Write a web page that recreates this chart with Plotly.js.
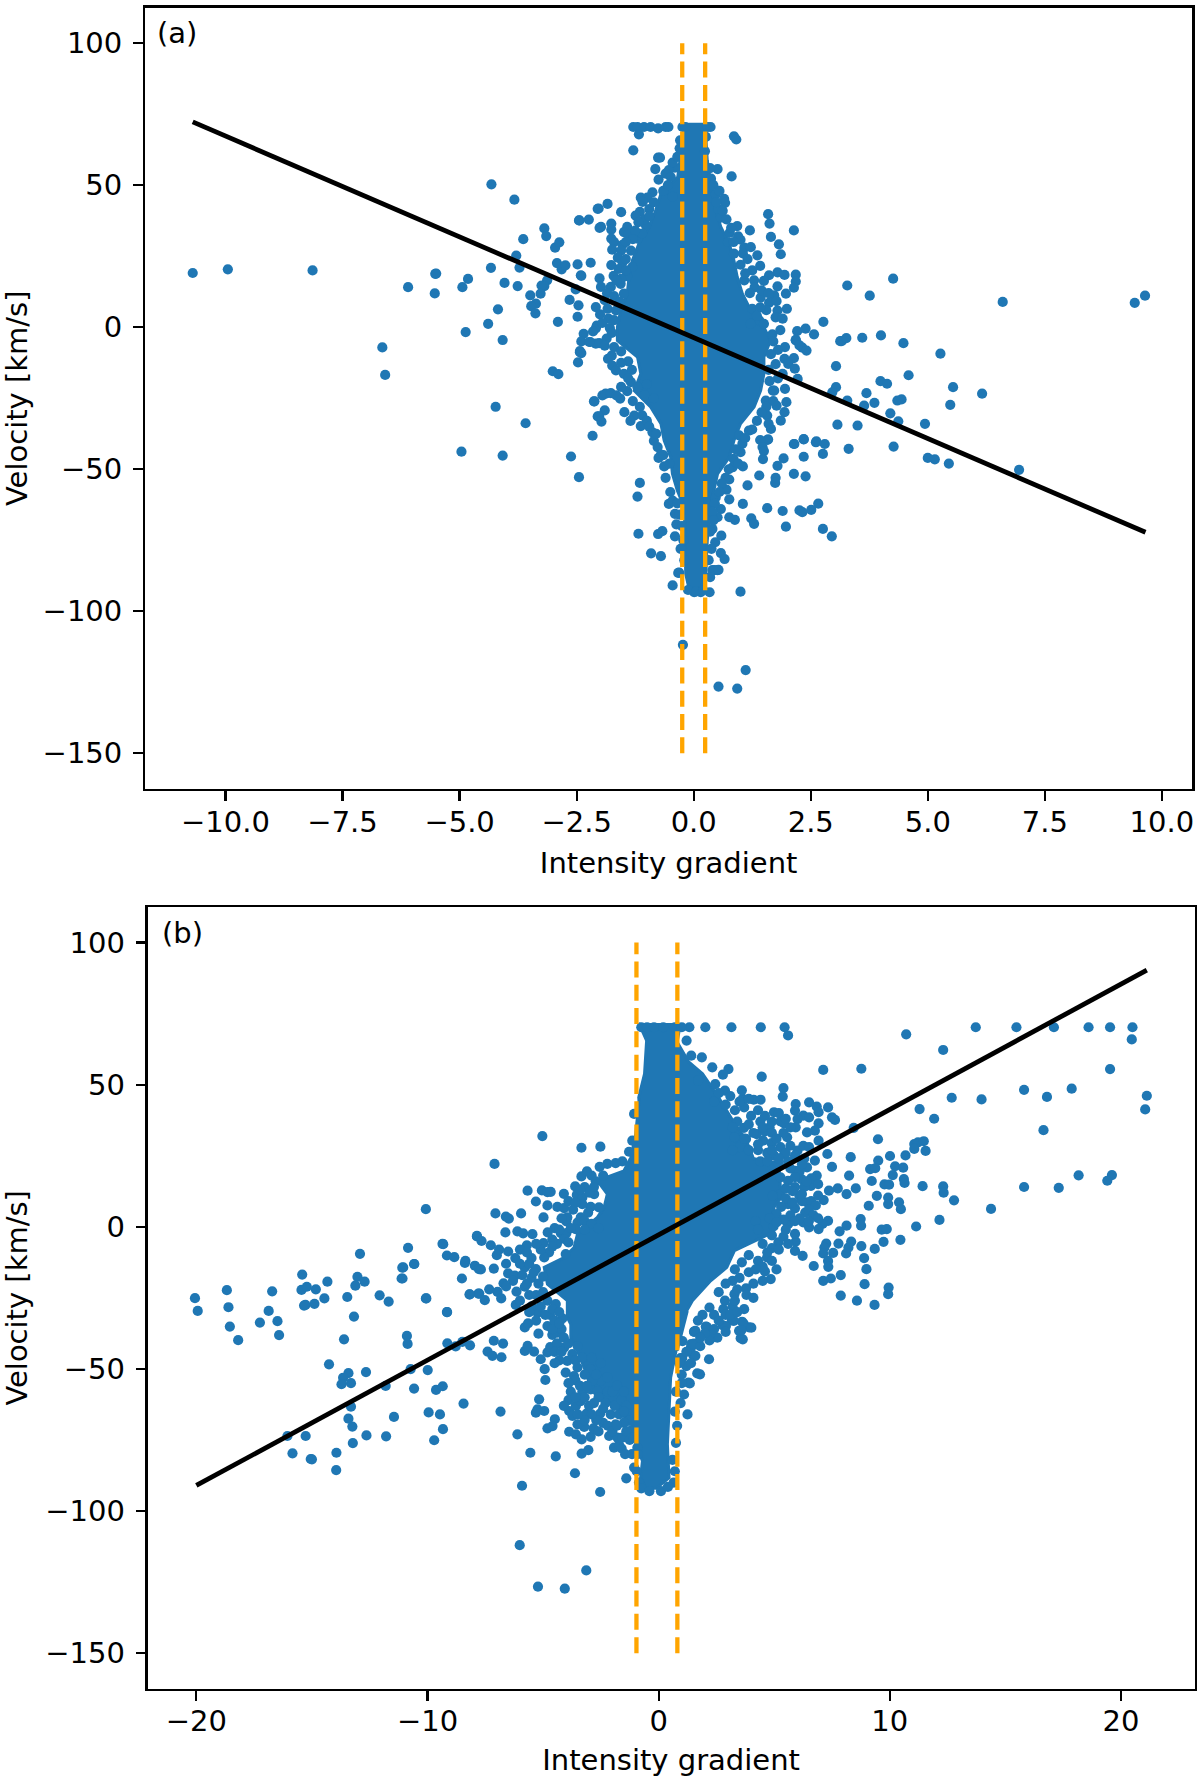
<!DOCTYPE html>
<html><head><meta charset="utf-8">
<script src="https://cdn.plot.ly/plotly-3.0.1.min.js"></script>
<style>html,body{margin:0;padding:0;background:#fff}#c{width:1200px;height:1777px}</style></head>
<body><div id="c"></div>
<script>
const pointsA=[[-10.7,19.1],[-9.95,20.4],[-8.14,20],[-6.65,-7.1],[-6.59,-16.8],[-6.1,14.1],[-5.52,18.8],[-5.5,18.9],[-5.53,11.9],[-4.94,14.1],[-4.82,17],[-4.87,-1.7],[-4.33,20.9],[-4.04,15.6],[-3.76,14.5],[-4.32,50.3],[-3.83,44.9],[-4.18,6.3],[-4.39,1.2],[-4.08,-4.5],[-4.23,-28],[-3.59,-33.8],[-4.96,-43.8],[-4.08,-45.2],[-3.79,25.2],[-3.72,21],[-3.64,31],[-3.19,34.8],[-3.15,32.1],[-2.96,28],[-2.87,29.9],[-2.92,22.6],[-2.82,20.4],[-2.74,21.8],[-2.48,22.1],[-2.2,22.7],[-2.4,18.1],[-3.13,16.5],[-3.19,14.5],[-3.25,14.7],[-3.49,11.2],[-3.27,11.8],[-3.37,8.3],[-3.47,7.4],[-3.38,4.9],[-2.65,9.6],[-2.46,7.7],[-2.52,13.3],[-2.48,3.7],[-2.9,1.9],[-2.35,-2.3],[-2.4,-5],[-2.43,-8.4],[-2.4,-9.1],[-2.47,-12.4],[-3.01,-15.5],[-2.89,-16.5],[-2.12,-26.1],[-2.16,-38.2],[-2.05,-31.4],[-2.44,37.6],[-2.24,37.9],[-2.05,41.7],[-2.01,35],[-2.09,-.4],[-2.21,-5.2],[-2.09,-5.8],
[-1.29,70.5],[-1.2,70.5],[-1.06,70.5],[-.92,70.5],[-.76,70],[-.6,70.5],[-.54,70.5],[-1.17,67.9],[-1.29,62.3],[-.76,59.7],[-.72,59.7],[-.82,55.7],[-.4,56.2],[-.53,55.3],[-.6,54.1],[-.49,52.9],[.51,55.7],[.81,53.1],[.37,52.3],[.86,67.2],[.91,66.1],[-.88,47.5],[-1.13,45.6],[-.99,45.6],[-1.09,44.1],[-1.84,43.4],[-2.03,41.8],[-1.55,40.5],[-1.15,40.6],[-1.24,39.3],[-.95,41.6],[-2.45,37.6],[-1.98,35.3],[-1.76,36.5],[-1.76,34.4],[-1.42,35.3],[-1.49,33.5],[-1.4,32.7],[-1.76,31.2],[-1.7,30],[-1.02,35.9],[-1.52,29],[-1.74,27.3],[-1.34,27],[-1.2,31.2],[-1.76,21.9],[-1.52,22.9],[-2.41,18.3],[-1.71,18.1],[-2.01,17.2],[-1.42,18],[-1.31,21.2],[-1.98,14.2],[-1.77,14.2],[-1.56,15.3],[-1.49,11.8],[-2.09,7.1],[-1.84,6.5],[-1.66,5.9],[-2.07,.6],[-1.79,-.3],[-2.23,-5.2],[-2.02,-5.6],[-1.86,-4],
[.47,46.8],[.65,45.2],[.67,43.8],[.52,41.6],[.58,38.6],[.93,35.6],[1.2,34.1],[.77,33.3],[1,30.8],[.73,30],[1.59,39.8],[1.62,36.5],[2.14,34.1],[1.65,31.8],[1.82,29.2],[1.86,25.7],[1.08,28],[1.22,28.2],[1.36,25.3],[.86,25.9],[1.42,21.6],[1.79,19.3],[1.61,18.3],[1.5,16.3],[1.94,18.4],[2.18,18.5],[2.18,16.1],[2.14,13.9],[1.79,14.4],[1.97,11.8],[1.72,11.2],[1.61,8.6],[1.77,9.2],[1.79,5.9],[1.99,6.5],[1.08,16.5],[1.29,16.5],[1.43,10.4],[1.25,6.5],[2.77,1.9],[2.21,-1.4],[2.39,-.5],[2.57,-2.5],[2.18,-4.6],[2.32,-7.2],[3.13,-4.9],[1.4,2.4],[1.5,1.2],[1.68,-2.5],[1.22,1.2],
[3.28,14.7],[3.76,11.1],[4.26,17.1],[6.6,8.9],[9.42,8.6],[9.64,11.1],[3.16,-4.9],[3.26,-3.8],[3.6,-3.7],[4,-2.9],[4.48,-5.6],[5.27,-9.3],[3.04,-13.7],[4.59,-16.9],[3.99,-19],[4.13,-19.9],[5.54,-21.1],[6.16,-23.4],[5.48,-27.3],[3.04,-21.1],[2.96,-22.9],[3.69,-23.2],[3.28,-25.8],[3.64,-27.6],[3.86,-26.6],[4.35,-25.8],[4.44,-25.4],[4.2,-30.3],[4.37,-33.1],[4.94,-34],[3.07,-34.3],[3.5,-34.6],[4.27,-42],[3.31,-42.8],[2.14,-41.1],[2.35,-39.5],[2.61,-40.5],[2.8,-41.1],[2.18,-4.4],[2.26,-6.4],[2.41,-8.2],[1.94,-11.1],[2.14,-10.9],[2.02,-12.9],[2.16,-14.6],[1.9,-16.4],[2.22,-18.2],[1.95,-21.7],[1.69,-22.3],[1.98,-26.4],[1.77,-27.6],[1.94,-29.9],[1.86,-32.9],[1.65,-35.8],[1.57,-39.7],[5.0,-46],[5.15,-46.5],[5.45,-48],[6.95,-50.2],
[-2.43,-8.8],[-2.13,-26.1],[-1.95,-24],[-1.88,-23.4],[-1.77,-23.2],[-1.57,-25.1],[-1.9,-29.3],[-2.02,-31.4],[-1.97,-33.2],[-1.48,-29.9],[-1.27,-31.1],[-1.83,-11.1],[-1.74,-13.5],[-1.66,-15.2],[-1.49,-16.4],[-1.34,-19.3],[-1.2,-21.1],[-1.13,-34.8],[-.88,-37],[-.77,-42.2],[-.7,-44.8],[-.63,-49],[-2.62,-45.5],[-2.45,-52.8],[-1.15,-54.8],[-1.2,-59.6],[-1.18,-72.7],[-.53,-62.2],[-.4,-65.7],[-.37,-69.4],[-.76,-72.8],[-.67,-71.8],[-.4,-73.6],[-.91,-79.6],[-.7,-80.6],[-.33,-86.5],
[1.05,-49],[1.4,-52.2],[1.15,-55.7],[1.79,-48.8],[1.92,-46.2],[1.75,-53],[1.74,-54.8],[2.14,-51.6],[2.39,-52.5],[2.35,-45.6],[2.76,-44.6],[2.15,-41.1],[2.35,-39.4],[2.62,-40.2],[1.59,-39.5],[1.42,-39.7],[1.47,-42.2],[1.5,-43.6],[1.48,-46.4],[1.18,-36.4],[.97,-38.1],[1.04,-41],[.76,-53.6],[.7,-57.2],[.76,-60.6],[.47,-59.9],[.85,-46.3],[.83,-49.3],[1.05,-62.2],[1.57,-63.7],[1.9,-64.7],[2.26,-64.5],[2.32,-65.1],[2.51,-64.3],[2.66,-62.1],[1.23,-67.3],[1.29,-69.2],[1.97,-70.2],[2.76,-71],[2.95,-73.6],[.76,-66.9],[.88,-67.8],[.58,-64],[.51,-66.9],[.59,-73.4],[.46,-75.7],[.58,-79.5],[.66,-81.6],[.51,-85.5],[.4,-85.5],[.4,-71],[1.54,-25.8],[1.72,-22.3],[1.57,-31.1],
[-.23,-111.8],[1.11,-120.7],[.53,-126.5],[.93,-127.2],[1,-93.1],[.34,-93.3],[-.45,-90.9],[-.31,-86.4],[.44,-85.5],[.53,-85.4],[.01,-93.3],[.15,-93.3],[-.24,70.5],[-.18,70.5],[.3,70.5],[.36,70.5],[-.29,65.8],[-.28,60],[.26,67],[.24,62],[-.12,-92.5],[.05,-93],[.2,-92.5]];
const fringeA=[[-1.05,38],[-1.18,37],[-1.1,33],[-1.25,34],[-1.3,31],[-1.45,30],[-1.55,27],[-1.62,24.5],[-1.45,24],[-1.6,20.5],[-1.45,20],[-1.55,17],[-1.65,16.5],[-1.85,12],[-1.7,11],[-1.58,9],[-1.9,9.5],[-2,4.5],[-1.82,3],[-1.7,2.5],[-1.95,1.5],[-1.75,-2],[-2.15,-1.5],[-1.9,-6.5],[-1.7,-7],[-1.55,-8.5],[-1.75,-10],[-1.4,-12],[-1.55,-12.5],[-1.32,-15],[-1.4,-18],[-1.05,-24],[-1.42,-22.5],[-1.55,-21],[-1.65,-24],[-1.3,-26],[-1.15,-28],[-1.35,-33],[-1.1,-31],[-1,-33],[-.95,-35],[-.85,-40],[-.8,-37.5],[-.75,-46],[-.65,-45],[-.6,-53],[-.52,-48],[-.5,-58],[-.45,-61],[-.35,-62],[-.3,-66],[-.25,-70],[-.22,-75],[-.28,-78],[-.2,-82],[-.85,-25],[-1,-20],[-.75,52],[-.65,48],[-.55,50],[-.45,46],[-.85,44],[-.95,39],[-.45,58],[-.35,60],[-.3,63],
[.35,56],[.42,50],[.55,48],[.48,44],[.62,41],[.7,38],[.8,35],[.95,32],[.85,30],[1.05,26],[1.15,24],[1,22],[1.25,20],[1.1,19],[1.3,14],[1.2,12],[1.45,13],[1.6,12],[1.55,6],[1.42,7],[1.35,4],[1.75,3.5],[1.9,3],[1.85,-1],[1.7,-5],[1.95,-7],[1.8,-8],[1.65,-9.5],[1.75,-13],[1.6,-15],[1.8,-18],[1.62,-19],[1.7,-26],[1.55,-28],[1.45,-30],[1.35,-33],[1.6,-34],[1.25,-36],[1.1,-39],[1,-44],[.9,-43],[.95,-48],[.75,-50],[.68,-53],[.6,-55],[.55,-58],[.45,-62],[.4,-65],[.42,-68],[.35,-72],[.38,-78],[.32,-82],[.35,-88]];
const coreAx=[-.19,-.29,-.34,-.7,-.81,-.95,-1.17,-1.31,-1.38,-1.42,-1.56,-1.63,-1.63,-1.2,-1.13,-1.27,-.92,-.7,-.63,-.49,-.455,-.35,-.2,-.17,-.1,.15,.26,.29,.33,.36,.43,.51,.76,.86,1,1.29,1.43,1.5,1.5,1.64,1.5,1.22,1.04,.93,.86,.76,.58,.47,.4,.29,.24];
const coreAy=[72,58.8,52.9,47,41.2,35.3,29.4,23.5,17.7,11.8,5.9,0,-4.65,-10.5,-16.4,-22.3,-28.1,-34,-39.9,-45.8,-51.6,-57.5,-63.4,-86.9,-92,-92,-86.9,-75.1,-69.2,-63.4,-57.5,-51.6,-45.8,-39.9,-34,-28.1,-22.3,-16.4,-10.5,-4.65,0,5.9,11.8,17.7,23.5,29.4,35.3,41.2,47,58.8,72];
const pointsB=[[-20.06,-25.1],[-19.94,-29.6],[-18.68,-22.3],[-18.61,-28.3],[-18.55,-35.1],[-18.19,-39.9],[-16.72,-22.7],[-16.87,-29.6],[-17.25,-33.7],[-16.49,-33.2],[-16.42,-38.1],[-15.42,-16.8],[-15.45,-22.2],[-15.22,-21.1],[-14.83,-22],[-14.33,-19.3],[-14.46,-25.2],[-15.34,-27.7],[-15.28,-27.5],[-14.89,-27.1],[-13.47,-24.7],[-13.18,-31.6],[-12.92,-9.5],[-13.03,-17.6],[-12.72,-19.3],[-13.12,-20.7],[-13.61,-39.6],[-12.07,-24.1],[-11.68,-26.3],[-11.12,-18.2],[-11.09,-14.4],[-10.58,-13.1],[-10.84,-7.4],[-10.07,-25.2],[-9.35,-6],[-9.16,-10.1],[-8.84,-10.7],[-8.36,-12],[-8.38,-12.7],[-7.95,-13.7],[-7.77,-14.9],[-8.51,-18.2],[-8.18,-23.8],[-7.8,-23.5],[-9.16,-30],[-7.86,-3.4],[-10.89,-38.4],[-10.86,-41.2],[-9.14,-41],[-8.78,-42.1],[-8.49,-40.5],[-8.16,-41.7],[-14.26,-48.4],[-13.42,-51.5],[-13.65,-53.1],[-13.72,-55.4],[-13.31,-55],[-12.66,-51.1],[-11.81,-56],[-10.73,-50.1],[-9.99,-50.4],[-10.58,-56.9],[-9.63,-57.4],[-9.34,-56.1],[-8.44,-62.2],[-13.31,-63.3],[-13.42,-67.5],[-13.25,-70.3],[-11.45,-66.9],[-9.95,-65.3],[-9.46,-66],[-9.33,-71.2],[-9.71,-75.1],[-16.06,-73.6],[-15.27,-73.6],[-12.64,-73.4],[-11.79,-73.7],[-13.23,-76.1],[-15.84,-79.7],[-15.05,-81.7],[-13.94,-79.5],[-15,-81.8],[-13.95,-85.6],
[-6.84,-65],[-6.11,-73],[-5.55,-79.5],[-4.45,-80.8],[-3.62,-86.7],[-5.91,-91.1],[-2.53,-93.3],[-6.01,-112],[-3.13,-120.9],[-5.22,-126.6],[-4.06,-127.3],[-1.4,-88.5],
[-7.13,-40.1],[-6.73,-41.1],[-7.4,-43.9],[-7.19,-45.4],[-6.8,-45.9],[-5.17,-60.7],[-5.24,-64.2],[-5.31,-65.4],[-4.95,-64.8],[-4.49,-67.7],[-4.81,-70.9],[-4.59,-70.1],[-3.87,-72.1],[-3.58,-73],[-3.33,-74.8],[-2.94,-73.9],[-2.82,-70.9],[-3.22,-70.4],[-3.51,-69.5],[-3.33,-79.8],[-3.04,-78.6],[-2.14,-73.6],[-1.93,-77.7],[-1.71,-76.8],[-1.78,-74.2],[-1.57,-74.2],[-3.12,-65.7],[-2.53,-65.7],[-2.07,-66],[-1.71,-66],[-1.86,-69.5],[-3.87,-64.8],[-3.73,-66.5],[-3.58,-63],[-3.37,-61.3],[-3.01,-63],[-3.3,-58],[-2.94,-57.2],[-2.65,-57.8],[-2.5,-54.2],[-2.22,-53],[-4.9,-53.9],[-4.93,-50.1],[-5.1,-46.6],[-4.81,-44.2],[-4.69,-42.3],[-5.79,-43.7],[-5.67,-41.9],[-5.39,-43.9],[-5.79,-35.4],[-5.65,-34],[-5.2,-37.6],[-5.24,-30.2],[-4.81,-34.9],[-4.38,-37.2],[-4.16,-32.2],[-4.02,-51.3],[-3.66,-52.5],[-3.51,-49.5],[-2.94,-50.1],[-2.87,-54.2],[-4.09,-42.5],[-3.95,-47.2],[-3.73,-44.8],[.95,-46.2],[1.5,-45.2],[1.67,-51.6],[1.29,-54.8],[1.53,-36.9],[1.53,-41.1],[1.39,-42.7],[1.03,-40.2],[-1.21,-71.8],[-1.28,-68.3],[-1.06,-84.7],[-.92,-77.7],
[-5.03,31.9],[-3.34,27.8],[-2.52,28.2],[-7.1,22.1],[-1.28,26.4],[-1.14,30.3],[-1.06,39.7],[-1.57,23],[-1.86,22.4],[-2.22,22.1],[-2.55,21.1],[-3.34,17.7],[-3.61,14.2],[-2.72,16],[-5.67,12.7],[-5.05,12.8],[-4.81,12.2],[-4.67,12.3],[-4.1,11.6],[-5.31,8.9],[-4.81,7.5],[-4.38,7],[-4.09,6.6],[-3.54,11.2],[-3.3,10.3],[-2.79,11.5],[-2.94,7],[-2.58,6.8],[-10.07,6.2],[-7.06,4.7],[-6.61,3.6],[-6.48,2.9],[-5.95,4.7],[-4.98,3.3],[-3.95,3.3],[-3.99,1.9],[-3.37,3.3],[-3.51,1.5],[-3.59,-.8],[-6.63,-2],[-6.11,-1.6],[-5.86,-2.3],[-5.46,-2.6],[-4.23,-2.2],[-3.99,-2.2],[-4.09,-4.3],[-4.98,-5.7],[-7.86,-3.2],[-7.66,-5],[-7.26,-6.5],[-9.32,-6.1],[-6.51,-8.7],[-7.13,-14.7],[-7.69,-15],[-11.05,-14.3],[-11.08,-18.2],[-10.57,-13.1],[-10.05,-25.2],[-9.15,-30],[-8.17,-23.8],[-7.76,-23.5],[-7.52,-25.8],[-7.33,-22],[-6.97,-22.9],[-6.81,-25.2],[-6.71,-19.9],[-6.51,-16.4],[-6.22,-17.2],[-6.15,-22.8],[-5.79,-21.1],[-5.79,-14.3],[-6.18,-27.5],[-5.24,-29.6],[-4.81,-26],[-4.45,-27.2],[-4.74,-9],[-4.95,-10.8],[-5.31,-14.9],[-4.02,-9.6],
[2.02,70.2],[3.15,70.2],[4.42,70.2],[5.45,70.2],[5.6,67.3],[10.71,67.7],[13.72,70.2],[15.48,70.2],[17.1,70.2],[18.6,70.2],[19.53,70.2],[20.5,70.2],[20.47,65.9],[12.31,62.2],[7.12,55.2],[8.77,55.6],[19.53,55.5],[4.46,52.8],[15.81,48.2],[17.87,48.6],[16.8,45.7],[12.68,45.4],[13.97,44.8],[21.12,46.1],[21.05,41.3],[11.29,41.4],[11.92,38],[16.65,34],[8.44,34.8],[9.49,30.8],[11.06,29.1],[11.22,29.7],[11.47,30.1],[11.55,26.7],[11.06,27.4],[10.68,25.1],[10.01,24.9],[9.5,23.3],[9.15,20.3],[9.37,20.6],[8.31,24.5],[10.23,21.3],[10.58,20.8],[10.13,18.2],[10.61,16.8],[10.64,15.4],[9.22,16.1],[9.77,14.9],[9.97,14.8],[11.42,14.3],[12.31,14.2],[12.33,12],[12.78,9.3],[18.17,18.1],[19.61,18.2],[19.41,16.2],[15.81,14],[17.31,13.7],[14.38,6.3],[12.15,2.4],[11.14,.1],[10.46,-4.6],[9.73,-5.3],[9.35,-7.8],[8.89,-11],[8.99,-14.9],[8.77,-6.8],[8.91,-20.2],[9.95,-21.4],[9.93,-23.7],[7.88,-24.2],[8.58,-26],[9.34,-27.5],[9.44,10.9],[9.93,10.3],[9.93,8],[10.4,8.6],[10.48,6.2],[9.09,7.4],[9.65,-1],[9.87,-.8],[8.74,2.7],[8.76,.4],[8.13,.4],[7.83,-1.6],[7.37,12.7],[7.75,13.5],[8.13,11.5],[8.53,13.5],[7.14,9.4],[7.5,21.1],[8.24,18],[7.33,2.1],[7.09,1],[6.92,-.8],[7.25,-5.9],[7.17,-7.3],[7.12,-9.4],[7.55,-9.2],[7.78,-5.9],[8.11,-9.4],[8.33,-5.2],[8.21,-7.3],[7.33,-12],[7.34,-14.1],[6.71,-13.8],[6.23,-10.2],[5.93,-5.2],[7.12,-19],[7.45,-18.2],[7.88,-17],[4.69,-10.8],[5.18,-5.5],[4.85,-18.4],[4.6,-15.7],[3.78,-21.7],[3.28,-23.7],[2.87,-26],[2.2,-28.4],[3.17,-32.9],[3.61,-33.4],[2.78,-34.7],[3.91,-35.4],[3.48,-36.6],[2.04,-35.1],[2.54,-39],[3.55,-39.2],[1.41,-41.3],[1.54,-37],
[1.33,70.2],[1.21,65.5],[1.41,60.2],[1.87,59.6],[2.32,56.1],[3.02,55.5],[2.78,53.5],[1.71,51.4],[2.45,50.2],[2.87,47.9],[5.4,48.8],[5.37,45.8],[4.11,44.7],[4.41,44.7],[3.64,45],[6.51,43.8],[6.84,42.3],[7.33,42],[6.92,40.3],[7.5,38.5],[7.63,37.6],[5.93,43.2],[5.9,40.9],[4.99,40.3],[5.27,37.1],[5.43,36.4],[6.26,39.1],[6.51,38.5],[6.01,37.9],[6.92,36.4],[6.76,33.8],[6.42,33.2],[5.93,35],[5.56,31.5],[6.92,30.3],[3.69,34.8],[4.24,32.6],[4.6,33.6],[4.52,30.3],[4.89,29.4],[3.28,31.5],[3.78,30.9],[5.27,28],[5.43,25.6],[6.01,26.8],[6.26,28.5],[6.51,28],[7.3,25.6],[6.76,23.3],[4.94,21.5],[5.27,17.4],[5.93,19.7],[6.42,20.9],[6.84,18],[6.18,16.8],[6.59,14.4],[5.6,16.2],[6.09,10.9],[6.42,8.6],[6.34,5],[5.6,8],[5.27,11.5],[4.94,10.9],[5.6,.9],[6.26,1.5],[6.51,-.2],[4.97,.1],
[3.25,-33.1],[3.68,-34.1],[4.01,-35.5],[3.58,-36.4],[3.64,-39.6],[2.91,-34.9],[2.08,-35.2],[2.25,-37.8],[1.59,-36.6],[1.52,-41.3],[2.18,-46.6],[1.59,-45.4],[1.02,-46.2],[1.79,-51.9],[1.35,-55.1],[1.25,-66],[-.75,70.2],[-.5,70.2],[-.2,70.2],[.2,70.2],[.7,70.2],[1,70.2]];
const fringeB=[[-3.2,14],[-3,12],[-3.3,8],[-3.05,5],[-3.7,6],[-4.2,3],[-4.5,-.5],[-3.9,-5.5],[-4.4,-6],[-4.6,-4.5],[-5.1,-8],[-5.5,-11],[-5.6,-13],[-5.9,-17],[-5.5,-18],[-5.2,-20],[-5.6,-24],[-5.3,-24],[-5,-23],[-4.7,-31],[-4.5,-33],[-4.9,-31],[-5.3,-33],[-4.6,-38],[-4.2,-36],[-4.4,-41],[-4.3,-47],[-4.5,-48],[-3.6,-54],[-3.4,-56],[-3.1,-56],[-3.8,-58],[-3.9,-61],[-4.1,-63],[-3.2,-60],[-2.6,-60],[-2.3,-62],[-2.4,-69],[-2.7,-68],[-1.9,-63],[-1.6,-61],[-1.5,-69],[-1.4,-72],[-1.6,-78],[-1.45,-80],[-1.25,-75],[-1.15,-80],
[2.4,44],[2.9,43],[3.3,41],[3.7,42],[4,39],[3.4,37],[3.9,36],[3.2,35],[4.4,37],[4.1,33],[4.8,35],[4.9,33],[5.1,31],[3.5,28],[3.9,27],[4.3,27],[4.7,26],[5,25],[3.2,27],[5.7,28.5],[5.9,25],[5.6,23],[6.3,24],[4.4,23],[4.7,23],[5.2,22],[5.7,20.5],[6.1,19.5],[6.6,17],[6.3,14],[5.9,14],[5.5,13.5],[5.5,10],[5.8,12.5],[6.2,9],[6.6,9],[6.8,7.5],[5.9,6.5],[6.5,6],[5.3,7],[5.1,4.5],[5.7,4],[6.1,3],[5.4,2.5],[4.8,3],[4.2,2],[4.3,-1],[4.9,-3],[5.4,-3.5],[4.5,-6],[4.9,-7.5],[3.9,-10],[4.3,-12],[3.6,-12.5],[3.3,-15],[3.9,-16],[3.2,-19],[3.5,-18],[2.9,-20],[2.6,-23],[2.8,-29],[3.2,-28],[2.4,-31],[2.9,-31],[1.9,-31],[1.7,-33],[2.2,-40],[1.8,-42],[1.2,-49],[1,-52],[1.1,-59],[.75,-58],[.7,-65],[.9,-48],
[-2.4,18],[-2.9,18],[-3.1,19.5],[-2.8,14],[-3.4,13],[-3.9,9],[-3.6,8.5],[-3.2,2],[-2.9,1],[-2.6,-.5],[-3.8,-.5],[-4.3,-1],[-4.8,-2],[-3.2,-1],[-4.6,-7],[-5.3,-6],[-5.7,-6.5],[-6,-8],[-5.7,-9],[-6.2,-11],[-6.6,-13],[-7,-10],[-6.9,-8],[-6,-13],[-6.3,-19],[-6.6,-21],[-5.4,-16],[-5,-17.5],[-5.7,-20],[-6,-26],[-5.5,-28],[-5.1,-28],[-4.6,-29],[-5.6,-30],[-4.3,-30],[-4.5,-44],[-4.2,-44],[-4.6,-36],[-4.1,-39],[-4.3,-34],[-3.9,-41],[-3.6,-47],[-3.5,-42],[-3.3,-46],[-3.2,-52],[-2.9,-46],[-2.7,-52],[-2.5,-48],[-3.9,-55],[-3.6,-60],[-2.2,-58],[-2,-58],[-1.8,-56],[-2.8,-62],[-2.4,-64],[-1.5,-58],[-1.4,-63],[-1.5,-65],[-2.9,-66],[-3.2,-68],[-2.2,-70],[-2.6,-72],[-2,-72],[-1.8,-70],[-3.5,-66],
[3.5,44],[2.6,47],[3.1,46],[3.6,48],[3.9,45],[4.3,41],[4.6,39],[4.9,37],[4.5,35],[5.4,33],[5.7,35],[5.2,40],[5.5,38],[3.7,31],[4.3,29],[4.9,27],[5.5,26],[5.2,24],[6.2,22],[5.9,17.5],[6.4,16],[6.9,15],[6.2,11.5],[5.8,8.5],[6.9,11],[6.7,4],[6.5,2],[6.9,3],[5.9,2],[5.1,1.5],[5.5,-1],[5.9,-2.5],[5.6,-6],[5.2,-8],[4.7,-9],[5.9,-8.5],[4.9,-12],[5.1,-15],[4.5,-14],[4.2,-15],[4.5,-19],[4.1,-20],[3.8,-24],[3.4,-22],[3.3,-26],[4.1,-25],[3.7,-29],[3.1,-31],[3.4,-30],[2.6,-33],[2.4,-36],[2.9,-37],[2,-37.5],[1.8,-39],[1.2,-44],[1.4,-48],[1,-55],[.95,-62],[.8,-70],[.75,-76],[.6,-82],[.7,-86],[.65,-90],[-.85,-90],[-.95,-86],[-.9,-80],[-1.1,-74],[-.75,-92],[-.4,-93],[.1,-93],[.4,-91.5]];
const coreBx=[-.86,-.52,-.61,-.86,-.85,-.99,-1.2,-1.5,-2.65,-2.22,-2.36,-2.65,-3.51,-3.66,-4.09,-4.95,-4.81,-3.95,-3.95,-3.95,-3.8,-3.8,-3.51,-3.2,-3,-2.5,-1.8,-1.06,-.99,-.7,-.78,-.55,-.1,.45,.38,.45,.52,.81,1.24,.8,1.05,1.46,2.25,2.95,3.28,4.77,4.98,4.9,5,5.3,5.2,4.1,3.8,3.2,2.6,1.9,1.3,.8,.95];
const coreBy=[71.7,65.5,53.8,45.5,44.4,32.6,24.4,19.7,16.2,11.5,6.8,3.3,-2.6,-7.3,-10.8,-14.3,-20.2,-26,-29.6,-31.9,-34.3,-39,-43.7,-50,-55,-60,-64,-70.7,-76.5,-82.4,-88.3,-92,-92,-88.3,-76.5,-64.8,-53,-41.3,-29.6,-43.6,-31.9,-26,-19,-14.3,-8.4,-2.6,-1.4,3,7,10.3,22,24,30.3,37.5,45.5,53.8,58,65,71.7];
const fitAx=[-10.7,9.65],fitAy=[72.3,-72.2];
const fitBx=[-20,21.12],fitBy=[-91,90.3];
const guideAx=[-.245,.245],guideBx=[-.96,.81],guideY=[-150,100];
const xticksA=[-10,-7.5,-5,-2.5,0,2.5,5,7.5,10],xlabelsA=['−10.0','−7.5','−5.0','−2.5','0.0','2.5','5.0','7.5','10.0'];
const xticksB=[-20,-10,0,10,20],xlabelsB=['−20','−10','0','10','20'];
const yticks=[-150,-100,-50,0,50,100],ylabels=['−150','−100','−50','0','50','100'];
const BLUE='#1f77b4',OR='#ffa500';
const font={family:'"DejaVu Sans"',size:29,color:'#000'};
function panel(p,fr,cx,cy,fx,fy,gx,xa,ya){
  const t=[];
  t.push({type:'scatter',mode:'lines',x:cx,y:cy,fill:'toself',fillcolor:BLUE,line:{color:BLUE,width:3},xaxis:xa,yaxis:ya,hoverinfo:'skip'});
  const all=p.concat(fr);
  t.push({type:'scatter',mode:'markers',x:all.map(d=>d[0]),y:all.map(d=>d[1]),marker:{color:BLUE,size:10.2,line:{width:0}},xaxis:xa,yaxis:ya});
  gx.forEach(g=>t.push({type:'scatter',mode:'lines',x:[g,g],y:guideY,line:{color:OR,width:4.3,dash:'16px,7.3px'},xaxis:xa,yaxis:ya}));
  t.push({type:'scatter',mode:'lines',x:fx,y:fy,line:{color:'#000',width:4.8},xaxis:xa,yaxis:ya});
  return t;
}
const ax=(dom,range,vals,text,title,standoff,extra)=>Object.assign({domain:dom,range,tickmode:'array',tickvals:vals,ticktext:text,ticks:'outside',ticklen:9.5,tickwidth:2.2,tickcolor:'#000',showline:true,linewidth:2.4,linecolor:'#000',mirror:true,showgrid:false,zeroline:false,tickfont:font,automargin:false,title:{text:title,font,standoff}},extra||{});
const layout={width:1200,height:1777,margin:{l:0,r:0,t:0,b:0},paper_bgcolor:'#fff',plot_bgcolor:'#fff',showlegend:false,
 xaxis:ax([.1208,.9936],[-11.72,10.65],xticksA,xlabelsA,'Intensity gradient',15.5,{anchor:'y',ticklabelstandoff:-4}),
 yaxis:ax([.5561,.99567],[-162.5,112.5],yticks,ylabels,'Velocity [km/s]',6.4,{anchor:'x',ticklabelstandoff:5}),
 xaxis2:ax([.12297,.99555],[-22.11,23.19],xticksB,xlabelsB,'Intensity gradient',14.5,{anchor:'y2',ticklabelstandoff:-4}),
 yaxis2:ax([.04969,.48959],[-162.5,112.5],yticks,ylabels,'Velocity [km/s]',9,{anchor:'x2',ticklabelstandoff:5}),
 annotations:[
  {text:'(a)',xref:'x domain',yref:'y domain',x:.0095,y:.967,xanchor:'left',yanchor:'middle',showarrow:false,font},
  {text:'(b)',xref:'x2 domain',yref:'y2 domain',x:.012,y:.9667,xanchor:'left',yanchor:'middle',showarrow:false,font}]};
const data=[...panel(pointsA,fringeA,coreAx,coreAy,fitAx,fitAy,guideAx,'x','y'),...panel(pointsB,fringeB,coreBx,coreBy,fitBx,fitBy,guideBx,'x2','y2')];
Plotly.newPlot('c',data,layout,{displayModeBar:false,staticPlot:true});
</script></body></html>
